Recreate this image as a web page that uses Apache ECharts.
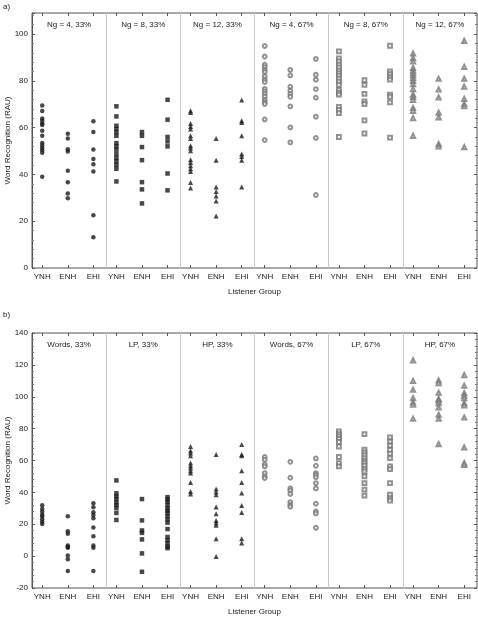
<!DOCTYPE html>
<html><head><meta charset="utf-8">
<script src="https://cdn.jsdelivr.net/npm/echarts@6/dist/echarts.min.js"></script>
<style>html,body{margin:0;padding:0;background:#fff}#c{width:478px;height:617px}</style>
</head><body><div id="c"></div>
<script>
const groups = ['YNH', 'ENH', 'EHI'];
const titlesA = ['Ng = 4, 33%', 'Ng = 8, 33%', 'Ng = 12, 33%', 'Ng = 4, 67%', 'Ng = 8, 67%', 'Ng = 12, 67%'];
const titlesB = ['Words, 33%', 'LP, 33%', 'HP, 33%', 'Words, 67%', 'LP, 67%', 'HP, 67%'];
const yTicksA = [0, 20, 40, 60, 80, 100];
const yTicksB = [-20, 0, 20, 40, 60, 80, 100, 120, 140];

// Panel a) — each array: [YNH, ENH, EHI]
const a_ng4_33 = [
  [69.5, 67.1, 63.9, 62.9, 61.8, 61.1, 58.7, 56.5, 53.4, 52.4, 51.3, 50.3, 49.3, 39.0],
  [57.4, 55.4, 50.8, 49.8, 41.6, 36.7, 31.8, 29.8],
  [62.7, 58.1, 50.6, 46.6, 44.3, 41.3, 22.6, 13.1]
];
const a_ng8_33 = [
  [69.1, 64.8, 60.8, 59.4, 58.0, 56.5, 53.4, 52.0, 50.6, 48.7, 47.0, 45.6, 44.1, 42.4, 37.0],
  [58.1, 56.5, 51.7, 46.1, 36.7, 33.6, 27.6],
  [71.9, 63.4, 56.0, 54.1, 52.0, 40.4, 33.2]
];
const a_ng12_33 = [
  [67.2, 66.5, 61.8, 60.5, 59.4, 56.5, 55.4, 52.3, 51.3, 50.1, 46.3, 45.1, 43.7, 42.4, 41.3, 36.6, 34.2],
  [55.4, 46.1, 34.6, 32.7, 30.8, 28.6, 22.2],
  [71.8, 62.9, 62.2, 56.5, 48.7, 47.7, 46.1, 34.6]
];
const a_ng4_67 = [
  [94.9, 90.4, 86.9, 85.9, 84.7, 83.8, 81.9, 80.5, 79.5, 76.6, 75.5, 74.4, 73.2, 71.9, 70.9, 70.1, 63.5, 54.7],
  [84.7, 82.3, 77.5, 75.8, 74.4, 73.2, 69.1, 60.1, 53.7],
  [89.4, 82.6, 80.5, 76.5, 72.8, 64.7, 55.6, 31.2]
];
const a_ng8_67 = [
  [92.6, 89.6, 88.3, 86.9, 85.7, 84.4, 83.3, 82.2, 80.9, 79.7, 78.3, 76.1, 75.0, 74.1, 68.9, 67.6, 66.2, 56.0],
  [80.3, 78.3, 74.4, 71.2, 70.1, 63.1, 57.5],
  [95.0, 84.0, 82.9, 81.6, 80.5, 74.1, 73.2, 70.8, 55.7]
];
const a_ng12_67 = [
  [91.7, 89.7, 88.3, 85.5, 84.4, 83.3, 82.3, 81.2, 80.0, 78.6, 76.5, 74.1, 73.1, 71.9, 68.4, 67.2, 64.1, 56.5],
  [80.9, 76.3, 72.9, 66.4, 64.4, 53.0, 52.0],
  [97.1, 86.0, 80.9, 77.5, 72.3, 70.1, 69.2, 51.7]
];

// Panel b)
const b_words_33 = [
  [32.0, 29.6, 27.9, 26.0, 24.8, 23.1, 21.6, 20.2],
  [25.0, 15.6, 14.1, 6.6, 5.8, 5.2, 0.4, -1.9, -9.4],
  [33.1, 30.6, 27.5, 25.8, 23.7, 17.9, 12.5, 6.6, 5.2, -9.4]
];
const b_lp_33 = [
  [47.5, 39.4, 37.5, 35.8, 33.7, 32.1, 30.2, 27.1, 22.7],
  [35.8, 22.4, 16.1, 14.6, 10.5, 1.7, -9.8],
  [37.0, 35.5, 34.0, 32.0, 30.0, 28.5, 27.0, 25.0, 23.0, 21.0, 17.0, 12.0, 10.0, 8.0, 6.0, 5.0]
];
const b_hp_33 = [
  [68.8, 66.1, 64.7, 63.0, 58.4, 56.7, 55.3, 53.6, 52.1, 46.2, 40.6, 39.0],
  [63.8, 42.1, 40.2, 38.5, 30.8, 26.6, 22.4, 20.8, 19.3, 10.9, -0.2],
  [70.1, 63.8, 63.0, 53.6, 46.2, 39.6, 31.8, 27.4, 10.9, 8.2]
];
const b_words_67 = [
  [62.2, 60.5, 57.5, 56.3, 52.1, 50.0, 49.0],
  [59.2, 49.2, 42.5, 41.2, 39.0, 33.9, 32.2, 31.0],
  [61.3, 56.7, 52.1, 50.9, 49.6, 45.8, 42.5, 32.9, 28.0, 26.8, 17.8]
];
const b_lp_67 = [
  [78.2, 76.6, 75.1, 73.5, 71.6, 68.8, 62.2, 58.4, 56.3],
  [76.6, 66.8, 65.1, 63.4, 61.5, 59.8, 58.4, 56.7, 54.6, 53.1, 50.0, 45.8, 41.7, 37.9],
  [74.5, 71.8, 69.3, 66.6, 64.3, 61.5, 56.3, 54.6, 45.8, 38.5, 36.4, 34.9]
];
const b_hp_67 = [
  [122.8, 110.0, 104.4, 99.2, 96.4, 95.0, 86.2],
  [110.2, 108.6, 102.5, 98.7, 97.7, 96.0, 93.3, 88.7, 86.2, 70.3],
  [113.6, 106.9, 102.3, 100.6, 99.2, 96.0, 94.5, 87.0, 68.2, 58.4, 57.3]
];

const panelA = [a_ng4_33, a_ng8_33, a_ng12_33, a_ng4_67, a_ng8_67, a_ng12_67];
const panelB = [b_words_33, b_lp_33, b_hp_33, b_words_67, b_lp_67, b_hp_67];
const symbols = ['circle', 'rect', 'triangle', 'emptyCircle', 'emptyRect', 'emptyTriangle'];
const symSizes = [4.5, 4.5, 5, 3.8, 3.8, 4.2];

const FONT = 'Liberation Sans, Arial, sans-serif';
const TXT = '#222';
const LEFT = 32, PW = 445 / 6;

const grid = [], xAxis = [], yAxis = [], series = [], graphic = [];

function buildPanel(top, height, ymin, ymax, yTicks, titles, data, label, labelY) {
  const g0 = grid.length;
  grid.push({ left: LEFT, top: top, width: 445, height: height, show: true, borderColor: '#555', borderWidth: 1,
    backgroundColor: 'transparent', containLabel: false, outerBoundsMode: 'none' });
  xAxis.push({ gridIndex: g0, type: 'value', min: 0, max: 1, axisLine: { show: false }, axisTick: { show: false }, axisLabel: { show: false }, splitLine: { show: false },
    name: 'Listener Group', nameLocation: 'middle', nameGap: 20, nameMoveOverlap: false,
    nameTextStyle: { fontFamily: FONT, fontSize: 8, color: TXT } });
  yAxis.push({ gridIndex: g0, type: 'value', min: ymin, max: ymax, interval: 20, position: 'left',
    axisLine: { show: true, onZero: false, lineStyle: { color: '#555' } },
    axisTick: { show: true, inside: true, length: 3, lineStyle: { color: '#555' } },
    minorTick: { show: true, splitNumber: 5, length: 2, lineStyle: { color: '#777' } },
    axisLabel: { fontFamily: FONT, fontSize: 8, color: TXT, margin: 4, customValues: yTicks },
    splitLine: { show: false },
    name: 'Word Recognition (RAU)', nameLocation: 'middle', nameGap: 20, nameRotate: 90, nameMoveOverlap: false,
    nameTextStyle: { fontFamily: FONT, fontSize: 8, color: TXT } });
  yAxis.push({ gridIndex: g0, type: 'value', min: ymin, max: ymax, interval: 20, position: 'right',
    axisLine: { show: false, onZero: false }, axisLabel: { show: false }, splitLine: { show: false },
    axisTick: { show: true, inside: true, length: 3, lineStyle: { color: '#555' } },
    minorTick: { show: true, splitNumber: 5, length: 2, lineStyle: { color: '#777' } } });
  for (let i = 0; i < 6; i++) {
    const gi = grid.length;
    grid.push({ left: LEFT + PW * i, top: top, width: PW, height: height, containLabel: false, outerBoundsMode: 'none' });
    const xb = xAxis.length;
    xAxis.push({ gridIndex: gi, type: 'value', min: -0.4, max: 2.5, position: 'bottom',
      axisLine: { show: false, onZero: false },
      axisTick: { show: true, inside: true, length: 3, customValues: [0, 1, 2], lineStyle: { color: '#555' } },
      axisLabel: { customValues: [0, 1, 2], formatter: v => groups[Math.round(v)], fontFamily: FONT, fontSize: 8, color: TXT, margin: 5 },
      splitLine: { show: false } });
    xAxis.push({ gridIndex: gi, type: 'value', min: -0.4, max: 2.5, position: 'top',
      axisLine: { show: false, onZero: false }, axisLabel: { show: false }, splitLine: { show: false },
      axisTick: { show: true, inside: true, length: 3, customValues: [0, 1, 2], lineStyle: { color: '#555' } } });
    const yi = yAxis.length;
    yAxis.push({ gridIndex: gi, type: 'value', min: ymin, max: ymax, position: 'left',
      axisLine: { show: i > 0, onZero: false, lineStyle: { color: '#c8c8c8', width: 1 } },
      axisTick: { show: false }, axisLabel: { show: false }, splitLine: { show: false } });
    const pts = [];
    data[i].forEach((vals, gIdx) => vals.forEach(v => pts.push([gIdx, v])));
    series.push({ type: 'scatter', xAxisIndex: xb, yAxisIndex: yi, data: pts,
      symbol: symbols[i], symbolSize: symSizes[i], silent: true,
      itemStyle: i < 3 ? { color: '#1a1a1a' } : { color: '#777', borderColor: '#6a6a6a', borderWidth: 0.6 } });
    graphic.push({ type: 'text', x: LEFT + PW * (i + 0.5), y: top + 12, silent: true,
      style: { text: titles[i], align: 'center', verticalAlign: 'middle', font: '8px ' + FONT, fill: TXT } });
  }
  graphic.push({ type: 'text', x: 3, y: labelY, silent: true,
    style: { text: label, align: 'left', verticalAlign: 'middle', font: '8px ' + FONT, fill: TXT } });
}

buildPanel(13, 255, 0, 109, yTicksA, titlesA, panelA, 'a)', 7);
buildPanel(333, 255, -20, 140, yTicksB, titlesB, panelB, 'b)', 315);

const chart = echarts.init(document.getElementById('c'), null, { renderer: 'canvas' });
chart.setOption({ animation: false, backgroundColor: '#fff', grid, xAxis, yAxis, series, graphic });
</script></body></html>
